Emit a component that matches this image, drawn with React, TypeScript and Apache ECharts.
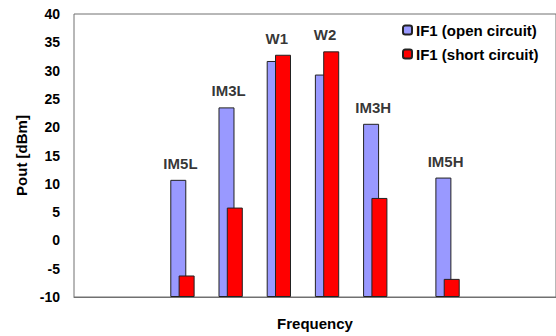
import React, { useEffect, useRef } from "react";
import * as echarts from "echarts";

const categories = ["", "", "", "", "IM5L", "", "IM3L", "", "W1", "", "W2", "", "IM3H", "", "", "IM5H", "", "", "", ""];
const openCircuit = [null, null, null, null, 10.7, null, 23.5, null, 31.7, null, 29.3, null, 20.6, null, null, 11.1, null, null, null, null];
const shortCircuit = [null, null, null, null, -6.2, null, 5.8, null, 32.8, null, 33.4, null, 7.5, null, null, -6.8, null, null, null, null];
const yTicks = [-10, -5, 0, 5, 10, 15, 20, 25, 30, 35, 40];
const seriesNames = ["IF1 (open circuit)", "IF1 (short circuit)"];

const FONT = "'Liberation Sans', Arial, sans-serif";

export default function App() {
  const ref = useRef<HTMLDivElement>(null);
  useEffect(() => {
    document.body.style.margin = "0";
    const chart = echarts.init(ref.current!, null, { renderer: "svg" });
    // Bars in the reference grow from the axis floor (-10), so values are
    // shifted by the axis minimum and the tick labels are shifted back.
    const base = yTicks[0];
    const shift = (arr: (number | null)[]) => arr.map((v) => (v === null ? null : v - base));
    const labelData = categories.map((c, i) => {
      if (!c) return null;
      const a = openCircuit[i] as number;
      const b = shortCircuit[i] as number;
      return { value: Math.max(a, b) - base, name: c };
    });
    const textBold = { fontFamily: FONT, fontWeight: "bold", color: "#000" };
    chart.setOption({
      animation: false,
      textStyle: { fontFamily: FONT },
      grid: {
        left: 74,
        top: 14,
        right: -2,
        bottom: 39,
        show: true,
        borderColor: "#707070",
        borderWidth: 1,
      },
      legend: {
        orient: "vertical",
        left: 397,
        top: 17,
        itemWidth: 9,
        itemHeight: 9,
        itemGap: 8,
        data: seriesNames,
        textStyle: { ...textBold, fontSize: 15, lineHeight: 16, padding: [0, 0, 0, -1] },
      },
      xAxis: {
        type: "category",
        data: categories,
        name: "Frequency",
        nameLocation: "middle",
        nameGap: 19,
        nameTextStyle: { ...textBold, fontSize: 15 },
        axisLine: { show: true, lineStyle: { color: "#707070", width: 1 } },
        axisTick: { show: false },
        axisLabel: { show: false },
        splitLine: { show: false },
      },
      yAxis: {
        type: "value",
        min: 0,
        max: yTicks[yTicks.length - 1] - base,
        interval: 5,
        name: "Pout [dBm]",
        nameLocation: "middle",
        nameGap: 44,
        nameTextStyle: { ...textBold, fontSize: 15 },
        axisLine: { show: false },
        axisTick: { show: false },
        splitLine: { show: false },
        axisLabel: {
          ...textBold,
          fontSize: 14,
          margin: 14,
          formatter: (v: number) => String(v + base),
        },
      },
      series: [
        {
          name: seriesNames[0],
          type: "bar",
          data: shift(openCircuit),
          barWidth: 16,
          barGap: "-48%",
          itemStyle: { color: "#9999FF", borderColor: "#222", borderWidth: 1 },
        },
        {
          name: seriesNames[1],
          type: "bar",
          data: shift(shortCircuit),
          barWidth: 16,
          itemStyle: { color: "#FF0000", borderColor: "#222", borderWidth: 1 },
        },
        {
          name: "labels",
          type: "scatter",
          data: labelData,
          symbolSize: 0,
          silent: true,
          label: {
            show: true,
            position: "top",
            distance: 9,
            offset: [-2, 0],
            formatter: (p: any) => p.name,
            ...textBold,
            fontSize: 15,
          },
        },
      ],
    });
    return () => chart.dispose();
  }, []);
  return <div ref={ref} style={{ width: 556, height: 336 }} />;
}
